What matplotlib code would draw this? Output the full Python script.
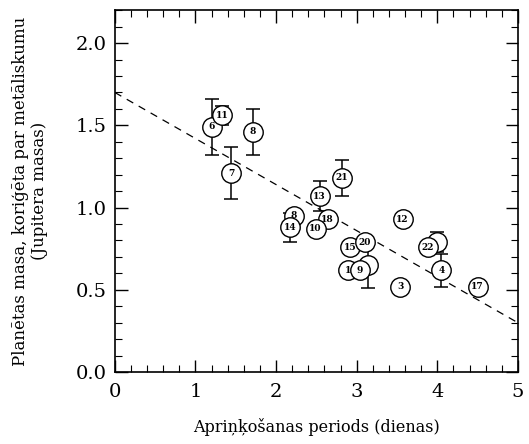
import matplotlib.pyplot as plt
from matplotlib.ticker import MultipleLocator

plt.rcParams['font.family'] = ['DejaVu Serif']

# planet labels, orbital period (days), corrected mass (Jupiter masses), error
labels = ['6', '11', '8', '7', '21', '13', '8', '14', '18', '10', '15', '20',
          '', '1', '9', '12', '3', '', '22', '4', '17']
period = [1.20, 1.33, 1.71, 1.44, 2.82, 2.54, 2.22, 2.17, 2.64, 2.49, 2.92, 3.10,
          3.14, 2.89, 3.04, 3.57, 3.54, 4.00, 3.88, 4.05, 4.50]
mass = [1.49, 1.56, 1.46, 1.21, 1.18, 1.07, 0.95, 0.88, 0.93, 0.87, 0.76, 0.79,
        0.65, 0.62, 0.62, 0.93, 0.52, 0.79, 0.76, 0.62, 0.52]
err = [0.17, 0.06, 0.14, 0.16, 0.11, 0.09, 0.0, 0.09, 0.0, 0.0, 0.0, 0.0,
       0.14, 0.0, 0.0, 0.04, 0.0, 0.06, 0.0, 0.10, 0.0]

fit_x = [0, 5]
fit_y = [1.70, 0.30]

fig = plt.figure(figsize=(5.29, 4.44), dpi=100)
ax = fig.add_axes([0.217, 0.162, 0.762, 0.815])

ax.plot(fit_x, fit_y, ls=(0, (6, 5)), color='black', lw=0.9, zorder=1)

for x, y, e, lab in zip(period, mass, err, labels):
    if e > 0:
        ax.errorbar(x, y, yerr=e, fmt='none', ecolor='black', elinewidth=1.1,
                    capsize=5, capthick=1.1, zorder=2)
    ax.plot(x, y, 'o', ms=14, mfc='white', mec='black', mew=1.0, zorder=3)
    ax.text(x, y, lab, ha='center', va='center', fontsize=6.5,
            fontweight='bold', zorder=4)

ax.set_xlim(0, 5)
ax.set_ylim(0, 2.2)
ax.xaxis.set_major_locator(MultipleLocator(1))
ax.xaxis.set_minor_locator(MultipleLocator(0.2))
ax.yaxis.set_minor_locator(MultipleLocator(0.1))
ax.set_yticks([0, 0.5, 1.0, 1.5, 2.0])
ax.set_yticklabels(['0.0', '0.5', '1.0', '1.5', '2.0'])
ax.tick_params(which='both', direction='in', top=True, right=True, labelsize=14)
ax.tick_params(which='major', length=9, width=1)
ax.tick_params(which='minor', length=5, width=0.8)
ax.tick_params(axis='x', pad=8)
ax.tick_params(axis='y', pad=6)
for s in ax.spines.values():
    s.set_linewidth(1.2)

ax.set_xlabel('Apriņķošanas periods (dienas)', fontsize=11.5, labelpad=12)
ax.set_ylabel('Planētas masa, koriģēta par metāliskumu\n(Jupitera masas)',
              fontsize=12, labelpad=20, linespacing=1.1)

fig.savefig('out.png', dpi=100)
